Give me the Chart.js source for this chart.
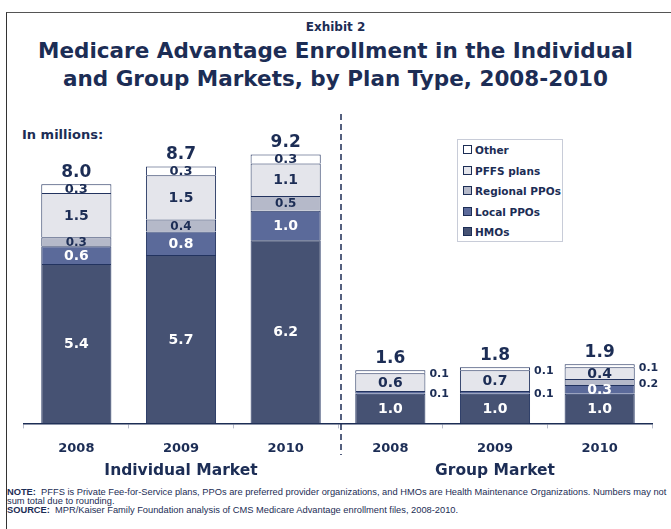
<!DOCTYPE html>
<html>
<head>
<meta charset="utf-8">
<script src="https://cdn.jsdelivr.net/npm/chart.js@4"></script>
<style>
  html, body { margin: 0; padding: 0; background: #fff; }
  body { width: 671px; height: 529px; position: relative; overflow: hidden;
         font-family: "DejaVu Sans", Verdana, sans-serif; color: #1c2d55; }
  .frame { position: absolute; left: 6px; top: 12px; width: 700px; height: 600px;
           border-top: 1.5px solid #555; border-left: 1.5px solid #333; }
  .exhibit { position: absolute; left: 0; width: 671px; top: 20px; text-align: center;
             font-weight: bold; font-size: 12px; line-height: 14px; }
  .title { position: absolute; left: 0; width: 671px; top: 37px; text-align: center;
           font-weight: bold; font-size: 21.5px; line-height: 28px; }
  .units { position: absolute; left: 22px; top: 127px; font-weight: bold; font-size: 13px; line-height: 16px; }
  #chart-wrap { position: absolute; left: 0; top: 0; width: 671px; height: 480px; }
  .legend { position: absolute; left: 457px; top: 139px; width: 104px; height: 101px;
            border: 1px solid #c8ccd8; background: #fff; }
  .legend-item { position: absolute; left: 5px; font-weight: bold; font-size: 10.5px;
                 line-height: 14px; white-space: nowrap; }
  .legend-item .swatch { display: inline-block; width: 7px; height: 7px; border: 1px solid #1c2d55;
                         margin-right: 3px; vertical-align: 0px; }
  .note { position: absolute; left: 7px; white-space: nowrap; height: 10px;
          font-family: "Liberation Sans Narrow", "Liberation Sans", Arial, sans-serif;
          font-size: 9.3px; line-height: 10px; }
</style>
</head>
<body>
<div class="frame"></div>
<div class="exhibit">Exhibit 2</div>
<div class="title">Medicare Advantage Enrollment in the Individual<br>and Group Markets, by Plan Type, 2008-2010</div>
<div class="units">In millions:</div>
<div id="chart-wrap"><canvas id="chart"></canvas></div>
<div class="legend" id="legend"></div>
<div class="note" style="top:487px"><b>NOTE:</b>&nbsp; PFFS is Private Fee-for-Service plans, PPOs are preferred provider organizations, and HMOs are Health Maintenance Organizations. Numbers may not</div>
<div class="note" style="top:496px">sum total due to rounding.</div>
<div class="note" style="top:505px"><b>SOURCE:</b>&nbsp; MPR/Kaiser Family Foundation analysis of CMS Medicare Advantage enrollment files, 2008-2010.</div>

<script>
// enrollment in millions, individual market 2008-2010 then group market 2008-2010
const years = ['2008', '2009', '2010', '2008', '2009', '2010'];
const markets = ['Individual Market', 'Group Market'];
const hmos = [5.4, 5.7, 6.2, 1.0, 1.0, 1.0];
const localPpos = [0.6, 0.8, 1.0, 0.1, 0.1, 0.3];
const regionalPpos = [0.3, 0.4, 0.5, 0, 0, 0.2];
const pffsPlans = [1.5, 1.5, 1.1, 0.6, 0.7, 0.4];
const other = [0.3, 0.3, 0.3, 0.1, 0.1, 0.1];
const totals = ['8.0', '8.7', '9.2', '1.6', '1.8', '1.9'];

const NAVY = '#1c2d55';
const FONT = '"DejaVu Sans", Verdana, sans-serif';

const series = [
  { label: 'HMOs', data: hmos, color: '#465273' },
  { label: 'Local PPOs', data: localPpos, color: '#5b6a9a' },
  { label: 'Regional PPOs', data: regionalPpos, color: '#b5b9c9' },
  { label: 'PFFS plans', data: pffsPlans, color: '#e4e5eb' },
  { label: 'Other', data: other, color: '#ffffff' },
];

// value labels in and beside the segments, plus totals over each stack
const valueLabels = {
  id: 'valueLabels',
  afterDatasetsDraw(chart) {
    const ctx = chart.ctx;
    ctx.save();
    ctx.textBaseline = 'middle';
    chart.data.datasets.forEach((ds, i) => {
      const meta = chart.getDatasetMeta(i);
      meta.data.forEach((bar, j) => {
        const v = ds.data[j];
        if (!v) return;
        const mid = (bar.y + bar.base) / 2;
        if (j >= 3 && i > 0 && v < 0.25) {
          ctx.font = 'bold 11px ' + FONT;
          ctx.fillStyle = NAVY;
          ctx.textAlign = 'left';
          ctx.fillText(v.toFixed(1), bar.x + bar.width / 2 + 4, mid + 2);
          return;
        }
        const size = i === 2 ? 12 : (i === 4 ? 13 : 14);
        ctx.font = 'bold ' + size + 'px ' + FONT;
        ctx.fillStyle = i <= 1 ? '#ffffff' : NAVY;
        ctx.textAlign = 'center';
        ctx.fillText(v.toFixed(1), bar.x, mid + 1);
      });
    });
    const top = chart.getDatasetMeta(chart.data.datasets.length - 1);
    ctx.font = 'bold 17px ' + FONT;
    ctx.fillStyle = NAVY;
    ctx.textAlign = 'center';
    top.data.forEach((bar, j) => {
      ctx.fillText(totals[j], bar.x, bar.y - 12);
    });
    ctx.restore();
  }
};

// market names under the years and the dashed divider between markets
const marketGroups = {
  id: 'marketGroups',
  afterDraw(chart) {
    const ctx = chart.ctx;
    const x = chart.scales.x;
    ctx.save();
    ctx.font = 'bold 15.5px ' + FONT;
    ctx.fillStyle = NAVY;
    ctx.textAlign = 'center';
    ctx.textBaseline = 'middle';
    markets.forEach((m, k) => {
      const cx = (x.getPixelForValue(k * 3) + x.getPixelForValue(k * 3 + 2)) / 2;
      ctx.fillText(m, cx, 471);
    });
    const dx = (x.getPixelForValue(2) + x.getPixelForValue(3)) / 2 + 3;
    ctx.strokeStyle = NAVY;
    ctx.lineWidth = 1.5;
    ctx.setLineDash([6, 4]);
    ctx.beginPath();
    ctx.moveTo(dx, 114);
    ctx.lineTo(dx, 455);
    ctx.stroke();
    ctx.restore();
  }
};

new Chart(document.getElementById('chart'), {
  type: 'bar',
  data: {
    labels: years,
    datasets: series.map(s => ({
      label: s.label,
      data: s.data,
      backgroundColor: s.color,
      borderColor: '#22335f',
      borderWidth: 1,
      categoryPercentage: 1,
      barPercentage: 0.67,
    }))
  },
  options: {
    responsive: true,
    maintainAspectRatio: false,
    animation: false,
    layout: { padding: { left: 24, right: 19, top: 128, bottom: 12 } },
    plugins: { legend: { display: false }, tooltip: { enabled: false } },
    scales: {
      x: {
        stacked: true,
        grid: { display: true, drawOnChartArea: false, drawTicks: true, tickLength: 5, color: '#b8bccb' },
        border: { display: true, color: NAVY, width: 1.5 },
        ticks: { color: NAVY, font: { family: FONT, size: 13, weight: 'bold' }, padding: 12 }
      },
      y: { stacked: true, display: false, min: 0, max: 10 }
    }
  },
  plugins: [valueLabels, marketGroups]
});

// legend, top entry first
document.getElementById('legend').innerHTML = series.slice().reverse().map((s, k) => `
  <div class="legend-item" style="top:${3 + k * 20.5}px">
    <span class="swatch" style="background:${s.color}"></span>${s.label}
  </div>`).join('');
</script>
</body>
</html>
